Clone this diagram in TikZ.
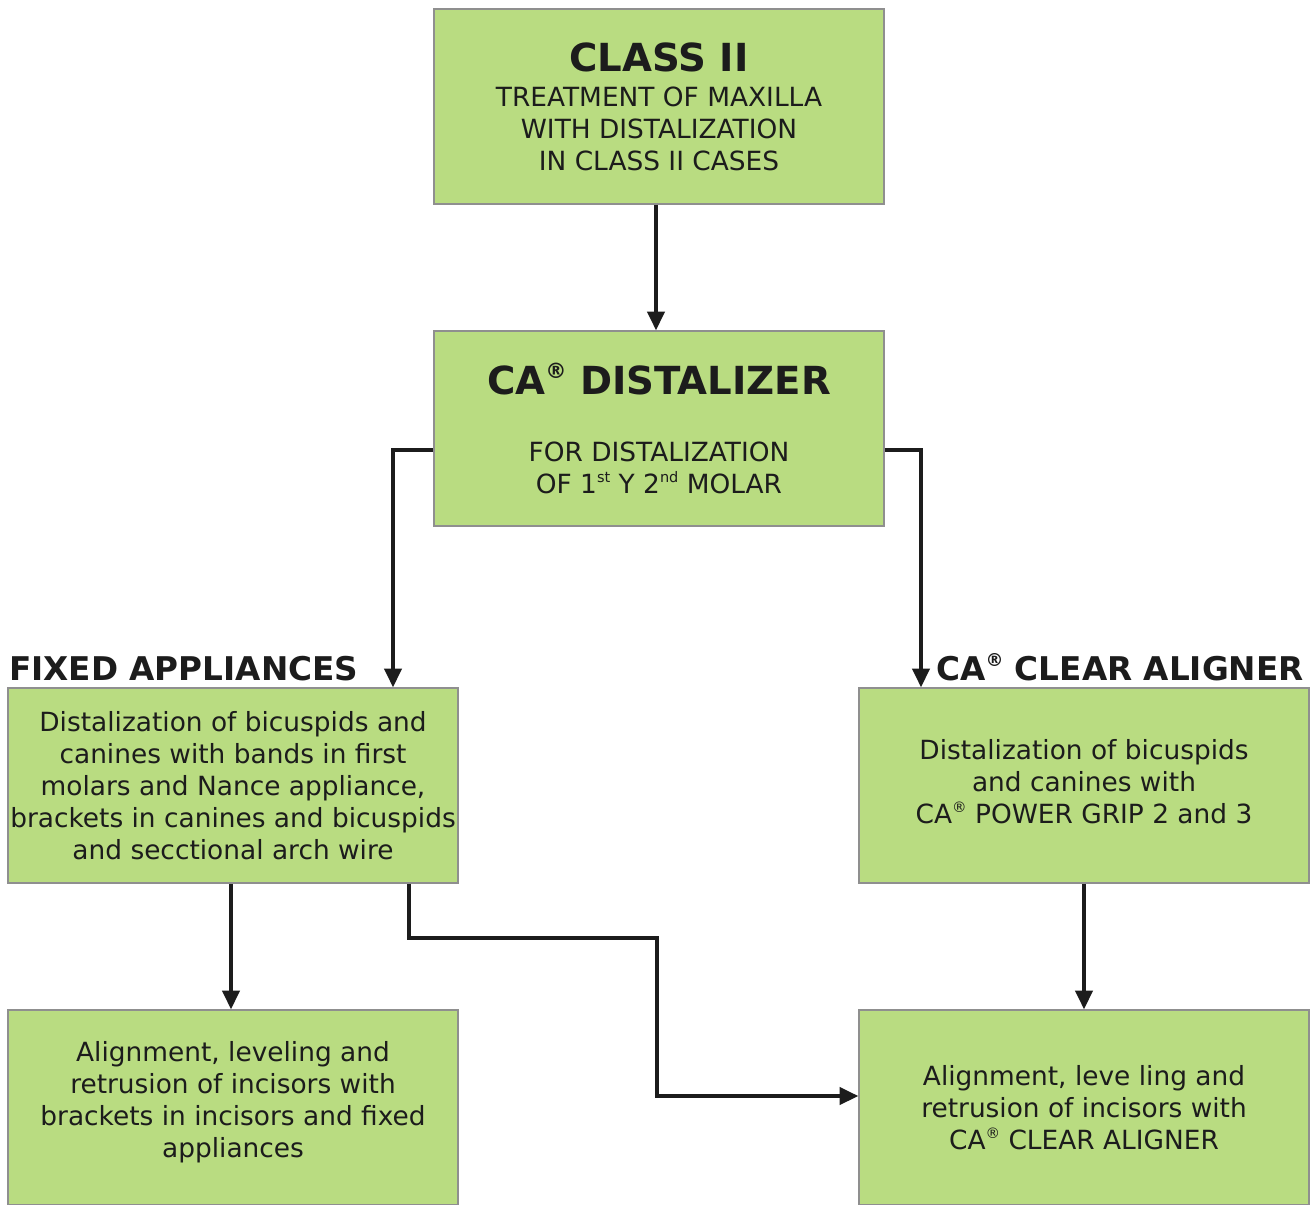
\documentclass[tikz,border=0pt]{standalone}
\usepackage{fontspec}
\setmainfont{DejaVu Sans}
\usetikzlibrary{arrows.meta,calc}
\definecolor{boxgreen}{HTML}{B9DC81}
\definecolor{boxedge}{HTML}{8F8F8F}
\definecolor{ink}{HTML}{1C1C1C}
\newcommand{\bodyfont}{\fontsize{19.8}{24}\selectfont}
\newcommand{\titlefont}{\fontsize{29}{34}\selectfont\bfseries}
\newcommand{\headfont}{\fontsize{24.5}{29}\selectfont\bfseries}
\newcommand{\regmark}{\raisebox{0.42em}{\scalebox{0.55}{®}}}
\newcommand{\supsm}[1]{\raisebox{0.42em}{\scalebox{0.55}{#1}}}
\begin{document}
\begin{tikzpicture}[x=0.75pt,y=-0.75pt,
  box/.style={draw=boxedge,line width=1.1pt,fill=boxgreen,minimum width=337.5pt,minimum height=146.25pt,inner sep=0pt,align=center,font=\bodyfont,text=ink},
  txt/.style={inner sep=0pt,align=center,font=\bodyfont,text=ink},
  head/.style={inner sep=0pt,font=\headfont,text=ink},
  arr/.style={draw=ink,line width=2.3pt,-{Triangle[length=14pt,width=13pt]}}]
\useasboundingbox (0,0) rectangle (1312,1204);
\clip (0,0) rectangle (1312,1204);
\node[box] (top) at (659,106.5) {{\titlefont CLASS II}\\[2.25pt]TREATMENT OF MAXILLA\\WITH DISTALIZATION\\IN CLASS II CASES};
\node[box] (mid) at (659,428.5) {{\titlefont CA\regmark{} DISTALIZER}\\[26pt]FOR DISTALIZATION\\OF 1\supsm{st} Y 2\supsm{nd} MOLAR};
\node[box] (fixL) at (233,785.5) {Distalization of bicuspids and\\canines with bands in first\\molars and Nance appliance,\\brackets in canines and bicuspids\\and secctional arch wire};
\node[box] (fixR) at (1084,785.5) {};
\node[txt] (fixRt) at ($(fixR.center)+(0,-4)$) {Distalization of bicuspids\\and canines with\\CA\regmark{} POWER GRIP 2 and 3};
\node[box] (botL) at (233,1107.5) {};
\node[txt] (botLt) at ($(botL.center)+(0,-5)$) {Alignment, leveling and\\retrusion of incisors with\\brackets in incisors and fixed\\appliances};
\node[box] (botR) at (1084,1107.5) {Alignment, leve ling and\\retrusion of incisors with\\CA\regmark{} CLEAR ALIGNER};
\node[head,anchor=base west] (hfix) at (9,680) {FIXED APPLIANCES};
\node[head,anchor=base east] (hca) at (1304,680) {CA\regmark{} CLEAR ALIGNER};
\coordinate (k1) at (657,938);
\draw[arr] ($(top.south)+(-3,0)$) -- ($(mid.north)+(-3,0)$);
\draw[arr] ($(mid.west)+(0,21.5)$) -| ($(fixL.north)+(160,0)$);
\draw[arr] ($(mid.east)+(0,21.5)$) -| ($(fixR.north)+(-163,0)$);
\draw[arr] ($(fixL.south)+(-2,0)$) -- ($(botL.north)+(-2,0)$);
\draw[arr] ($(fixL.south)+(176,0)$) |- (k1) |- ($(botR.west)+(0,-11.5)$);
\draw[arr] (fixR.south) -- (botR.north);
\end{tikzpicture}
\end{document}
